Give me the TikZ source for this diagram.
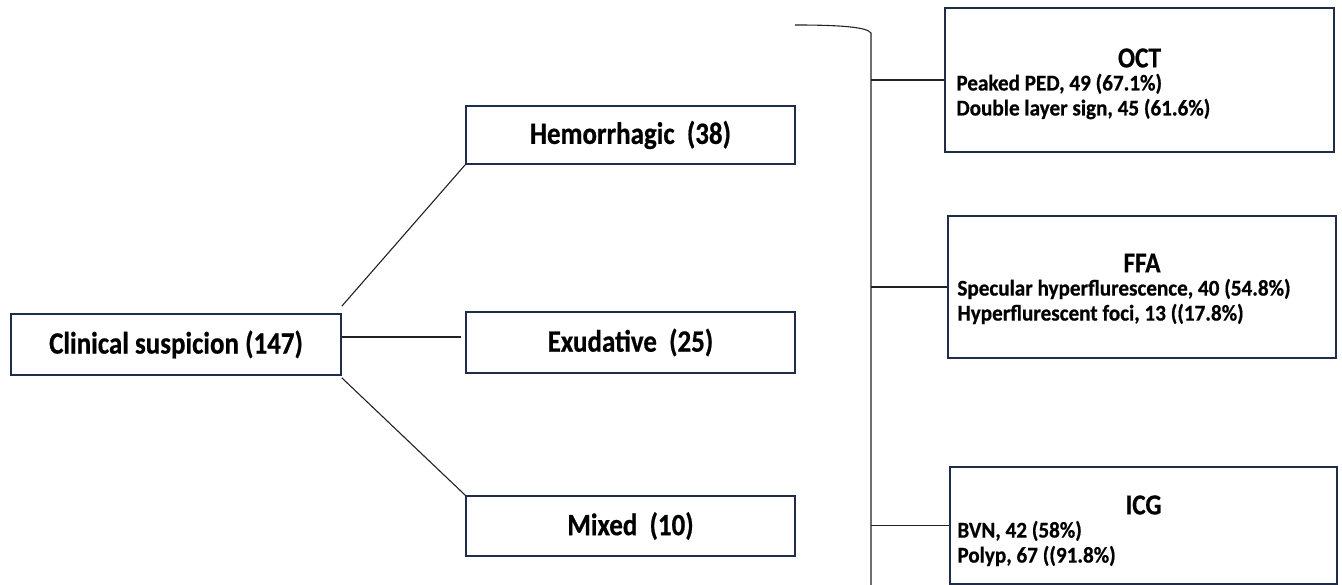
\documentclass[tikz,border=0pt]{standalone}
\usepackage{fontspec}
\setmainfont{Carlito}
\newfontfamily\labfont{Carlito}[FakeStretch=0.87,FakeBold=0.6]
\newfontfamily\bodyfont{Carlito}[FakeStretch=0.94,FakeBold=0.6]
\definecolor{boxline}{HTML}{1F2D4A}
\definecolor{conn}{HTML}{222222}
\begin{document}
\begin{tikzpicture}[x=1pt,y=-1pt,
  box/.style={draw=boxline,line width=1.6pt,fill=white,inner sep=0pt},
  lab/.style={font=\labfont\fontsize{31}{33}\selectfont\bfseries,inner sep=0pt},
  ttl/.style={font=\labfont\fontsize{29}{31}\selectfont\bfseries,inner sep=0pt},
  body/.style={font=\bodyfont\fontsize{22.5}{25}\selectfont\bfseries,align=left,anchor=west,inner sep=0pt},
  conn/.style={draw=conn,line width=1.1pt}]
\useasboundingbox (0,0) rectangle (1342,585);
% left tree
\node[box,minimum width=330pt,minimum height=61pt] (clin) at (176,344.5) {};
\node[lab] (clint) at (clin) {Clinical suspicion (147)};
\node[box,minimum width=329pt,minimum height=58pt] (hem) at (630.5,135) {};
\node[lab] (hemt) at (hem) {Hemorrhagic\ \ (38)};
\node[box,minimum width=329pt,minimum height=61pt] (exu) at (630.5,342.5) {};
\node[lab] (exut) at (exu) {Exudative\ \ (25)};
\node[box,minimum width=329pt,minimum height=60pt] (mix) at (630.5,526) {};
\node[lab] (mixt) at (mix) {Mixed\ \ (10)};
\draw[conn] ([yshift=7pt]clin.north east) -- (hem.south west);
\draw[conn] ([yshift=7.5pt]clin.east) -- ([xshift=-4pt,yshift=5.5pt]exu.west);
\draw[conn] ([yshift=-2pt]clin.south east) -- (mix.north west);
% right boxes
\node[box,minimum width=389pt,minimum height=144pt] (oct) at (1139.5,80) {};
\node[ttl] (octt) at ([yshift=22pt]oct.center) {OCT};
\node[body] (octb) at ([xshift=12pt,yshift=-16.5pt]oct.west) {Peaked PED, 49 (67.1\%)\\Double layer sign, 45 (61.6\%)};
\node[box,minimum width=388pt,minimum height=142pt] (ffa) at (1142,287) {};
\node[ttl] (ffat) at ([yshift=24pt]ffa.center) {FFA};
\node[body] (ffab) at ([xshift=10pt,yshift=-14.5pt]ffa.west) {Specular hyperflurescence,\ 40 (54.8\%)\\Hyperflurescent\ foci, 13 ((17.8\%)};
\node[box,minimum width=387pt,minimum height=117pt] (icg) at (1143.5,525.5) {};
\node[ttl] (icgt) at ([yshift=20.5pt]icg.center) {ICG};
\node[body] (icgb) at ([xshift=8pt,yshift=-18pt]icg.west) {BVN, 42 (58\%)\\Polyp, 67 ((91.8\%)};
% bracket
\coordinate (btop) at (795,25);
\coordinate (bcorner) at (871,33);
\coordinate (bbot) at (871,585);
\draw[conn] (btop) .. controls (840,25) and (867,27) .. (bcorner) -- (bbot);
\draw[conn] (oct.west -| bcorner) -- (oct.west);
\draw[conn] (ffa.west -| bcorner) -- (ffa.west);
\draw[conn] (icg.west -| bcorner) -- (icg.west);
\end{tikzpicture}
\end{document}
